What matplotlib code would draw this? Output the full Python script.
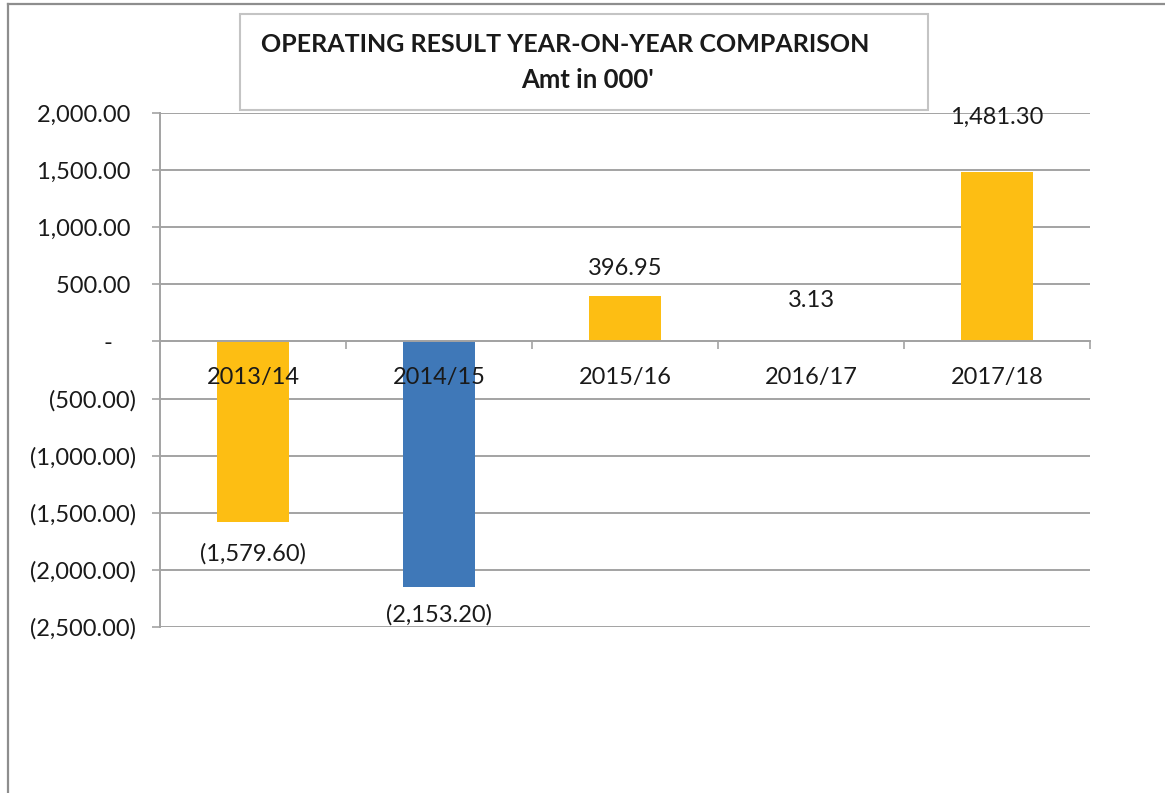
import matplotlib
matplotlib.use("Agg")
import matplotlib.pyplot as plt
import matplotlib.transforms as mtransforms
from matplotlib.lines import Line2D
from matplotlib.patches import Rectangle
from matplotlib.ticker import FixedLocator, FuncFormatter

# data
years = ["2013/14", "2014/15", "2015/16", "2016/17", "2017/18"]
results = [-1579.60, -2153.20, 396.95, 3.13, 1481.30]
y_ticks = [2000, 1500, 1000, 500, 0, -500, -1000, -1500, -2000, -2500]

title_line1 = "OPERATING RESULT YEAR-ON-YEAR COMPARISON"
title_line2 = "Amt in 000'"


def acct(v, pos=None):
    # Excel accounting style: negatives in brackets, zero as a dash
    if abs(v) < 1e-9:
        return "-    "
    if v < 0:
        return f"({abs(v):,.2f})"
    return f"{v:,.2f} "


plt.rcParams["font.family"] = ["Lato", "DejaVu Sans"]
GOLD = "#FDBE13"
BLUE = "#3F78B8"
GRID = "#A3A3A3"
TXT = "#1A1A1A"
FS = 17
bar_colors = [GOLD, BLUE, GOLD, GOLD, GOLD]
# label gap from bar end, in points (labels were nudged by hand in the source)
label_gap = [23, 19.5, 20, 29.5, 39.5]

W, H = 1165, 793
fig = plt.figure(figsize=(W / 100, H / 100), dpi=100)
ax = fig.add_axes([160 / W, 1 - 627 / H, 930 / W, (627 - 113) / H])

x = list(range(len(years)))
ax.bar(x, results, width=0.39, color=bar_colors, zorder=2)

ax.set_xlim(-0.5, len(years) - 0.5)
ax.set_ylim(y_ticks[-1], y_ticks[0])
ax.set_axisbelow(True)

ax.yaxis.set_major_locator(FixedLocator(y_ticks))
ax.yaxis.set_major_formatter(FuncFormatter(acct))
ax.yaxis.grid(True, color=GRID, linewidth=1.4)
ax.tick_params(axis="y", length=6, width=1.2, color=GRID, pad=11,
               labelsize=FS, labelcolor=TXT)

ax.xaxis.set_major_locator(FixedLocator([i - 0.5 for i in range(len(years) + 1)]))
ax.set_xticklabels([])
ax.tick_params(axis="x", direction="out", length=6, width=1.2, color=GRID)

for side in ("top", "right"):
    ax.spines[side].set_visible(False)
ax.spines["bottom"].set_position(("data", 0))
for side in ("left", "bottom"):
    ax.spines[side].set_color(GRID)
    ax.spines[side].set_linewidth(1.4)

# category names sit just under the zero line, over the bars
trans = mtransforms.offset_copy(ax.transData, fig=fig, x=0, y=-26, units="points")
for i, name in enumerate(years):
    ax.text(i, 0, name, transform=trans, ha="center", va="center",
            fontsize=FS, color=TXT, zorder=5)

for i, v in enumerate(results):
    sign = 1 if v >= 0 else -1
    ax.annotate(acct(v).strip(), (i, v), xytext=(0, sign * label_gap[i]),
                textcoords="offset points", ha="center", va="center",
                fontsize=FS, color=TXT, zorder=5)

# title box
fig.patches.append(Rectangle((240 / W, 1 - 110 / H), 688 / W, 96 / H,
                             transform=fig.transFigure, facecolor="white",
                             edgecolor="#C4C4C4", linewidth=1.5))
fig.text(565 / W, 1 - 45 / H, title_line1, ha="center", va="center",
         fontsize=18, fontweight="bold", color=TXT)
fig.text(588 / W, 1 - 80 / H, title_line2, ha="center", va="center",
         fontsize=18.5, fontweight="bold", color=TXT)

# outer frame (top and left edges only visible)
fig.lines.append(Line2D([7.5 / W, 1], [1 - 3.5 / H] * 2, transform=fig.transFigure,
                        color="#8E8E8E", linewidth=1.6))
fig.lines.append(Line2D([7.5 / W] * 2, [0, 1 - 3.5 / H], transform=fig.transFigure,
                        color="#8E8E8E", linewidth=1.6))

fig.savefig("out.png", dpi=100)
